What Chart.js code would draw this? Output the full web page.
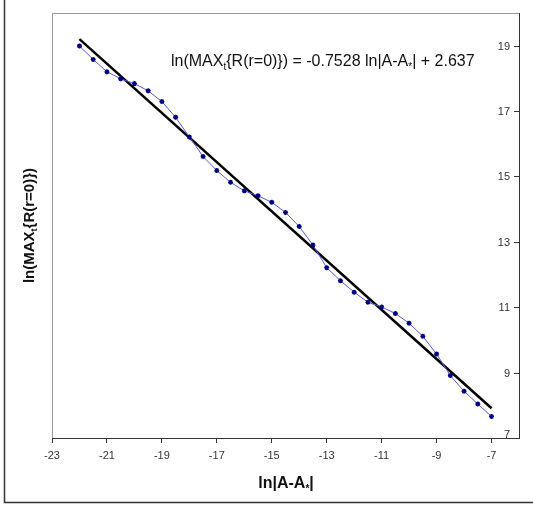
<!DOCTYPE html>
<html>
<head>
<meta charset="utf-8">
<script src="https://cdn.jsdelivr.net/npm/chart.js@4.4.1/dist/chart.umd.min.js"></script>
<style>
  html, body { margin: 0; padding: 0; background: #fff; }
  #wrap { width: 533px; height: 507px; position: relative; }
</style>
</head>
<body>
<div id="wrap"><canvas id="chart"></canvas></div>
<script>
// ln|A-A*| values and the measured ln(MAX_t{R(r=0)})
const lnDist = [-22, -21.5, -21, -20.5, -20, -19.5, -19, -18.5, -18, -17.5, -17, -16.5, -16, -15.5, -15,
                -14.5, -14, -13.5, -13, -12.5, -12, -11.5, -11, -10.5, -10, -9.5, -9, -8.5, -8, -7.5, -7];
const lnMax = [18.99, 18.58, 18.20, 17.99, 17.84, 17.62, 17.29, 16.81, 16.21, 15.61, 15.18, 14.82, 14.56, 14.41, 14.21,
               13.90, 13.47, 12.90, 12.21, 11.81, 11.46, 11.15, 11.01, 10.81, 10.51, 10.11, 9.57, 8.91, 8.43, 8.04, 7.66];
// trend line end points (as drawn)
const fitX = [-22, -7];
const fitY = [19.20, 7.91];

const xTickValues = [-23, -21, -19, -17, -15, -13, -11, -9, -7];
const yTickValues = [7, 9, 11, 13, 15, 17, 19];

const xTitle = [{ t: 'ln|A-A' }, { t: '*', sub: true }, { t: '|' }];
const yTitle = [{ t: 'ln(MAX' }, { t: 't', sub: true }, { t: '{R(r=0)})' }];
const equation = [{ t: 'ln(MAX' }, { t: 't', sub: true }, { t: '{R(r=0)}) = -0.7528 ln|A-A' }, { t: '*', sub: true }, { t: '| + 2.637' }];

const FONT = '"Liberation Sans", Arial, sans-serif';

function richWidth(ctx, parts, size, bold) {
    let w = 0;
    parts.forEach(p => {
        ctx.font = (bold ? 'bold ' : '') + (p.sub ? Math.round(size * 0.62) : size) + 'px ' + FONT;
        w += ctx.measureText(p.t).width;
    });
    return w;
}

function drawRich(ctx, parts, x, y, size, bold) {
    // x is the left end, y is the baseline
    ctx.textAlign = 'left';
    ctx.textBaseline = 'alphabetic';
    parts.forEach(p => {
        const s = p.sub ? Math.round(size * 0.62) : size;
        ctx.font = (bold ? 'bold ' : '') + s + 'px ' + FONT;
        ctx.fillText(p.t, x, p.sub ? y + size * 0.22 : y);
        x += ctx.measureText(p.t).width;
    });
}

const decorPlugin = {
    id: 'decor',
    beforeDraw(chart) {
        const ctx = chart.ctx;
        const a = chart.chartArea;
        ctx.save();
        ctx.fillStyle = '#fff';
        ctx.fillRect(0, 0, chart.width, chart.height);
        // outer frame (left and bottom)
        ctx.strokeStyle = '#333';
        ctx.lineWidth = 1.5;
        ctx.beginPath();
        ctx.moveTo(4.5, 0);
        ctx.lineTo(4.5, 502.5);
        ctx.lineTo(chart.width, 502.5);
        ctx.stroke();
        // plot area: grey left and top edges
        ctx.strokeStyle = '#9a9a9a';
        ctx.lineWidth = 1;
        ctx.beginPath();
        ctx.moveTo(a.left + 0.5, a.bottom);
        ctx.lineTo(a.left + 0.5, a.top + 0.5);
        ctx.lineTo(a.right, a.top + 0.5);
        ctx.stroke();
        ctx.restore();
    },
    afterDraw(chart) {
        const ctx = chart.ctx;
        const a = chart.chartArea;
        const ys = chart.scales.y;
        ctx.save();
        // inward tick marks and labels on the right axis
        ctx.strokeStyle = '#333';
        ctx.lineWidth = 1;
        ctx.fillStyle = '#333';
        ctx.font = '11px ' + FONT;
        ctx.textAlign = 'right';
        ctx.textBaseline = 'middle';
        yTickValues.forEach(v => {
            const py = Math.round(ys.getPixelForValue(v)) + 0.5;
            ctx.beginPath();
            ctx.moveTo(a.right - 5, py);
            ctx.lineTo(a.right, py);
            ctx.stroke();
            ctx.fillText(String(v), a.right - 9, v === 7 ? py - 4 : py);
        });
        ctx.fillStyle = '#111';
        // x axis title
        let w = richWidth(ctx, xTitle, 16, true);
        drawRich(ctx, xTitle, 286 - w / 2, 488, 16, true);
        // y axis title (rotated)
        ctx.save();
        ctx.translate(34, (a.top + a.bottom) / 2);
        ctx.rotate(-Math.PI / 2);
        w = richWidth(ctx, yTitle, 15, true);
        drawRich(ctx, yTitle, -w / 2, 0, 15, true);
        ctx.restore();
        // regression equation
        drawRich(ctx, equation, 171, 66, 16, false);
        ctx.restore();
    }
};

new Chart(document.getElementById('chart'), {
    type: 'scatter',
    data: {
        datasets: [
            {
                label: 'fit',
                data: fitX.map((x, i) => ({ x: x, y: fitY[i] })),
                showLine: true,
                borderColor: '#000',
                borderWidth: 2.5,
                pointRadius: 0,
                order: 2
            },
            {
                label: 'data',
                data: lnDist.map((x, i) => ({ x: x, y: lnMax[i] })),
                showLine: true,
                borderColor: '#5b5bd6',
                borderWidth: 1,
                pointStyle: 'star',
                pointRadius: 2.5,
                pointBorderColor: '#00007f',
                pointBackgroundColor: '#00007f',
                pointBorderWidth: 1.4,
                order: 1
            }
        ]
    },
    options: {
        responsive: true,
        maintainAspectRatio: false,
        animation: false,
        layout: { padding: { left: 52, top: 13, right: 0, bottom: 0 } },
        plugins: {
            legend: { display: false },
            tooltip: { enabled: false }
        },
        scales: {
            x: {
                type: 'linear',
                min: -23,
                max: -6,
                afterBuildTicks: s => { s.ticks = xTickValues.map(v => ({ value: v })); },
                afterFit: s => { s.height = 69; },
                border: { color: '#333', width: 1 },
                grid: { drawOnChartArea: false, drawTicks: true, tickLength: 5, color: '#333' },
                ticks: { color: '#333', font: { family: FONT, size: 11 }, padding: 6 }
            },
            y: {
                type: 'linear',
                position: 'right',
                min: 7,
                max: 20,
                afterBuildTicks: s => { s.ticks = yTickValues.map(v => ({ value: v })); },
                afterFit: s => { s.width = 14; },
                border: { color: '#333', width: 1 },
                grid: { display: false },
                ticks: { display: false }
            }
        }
    },
    plugins: [decorPlugin]
});
</script>
</body>
</html>
